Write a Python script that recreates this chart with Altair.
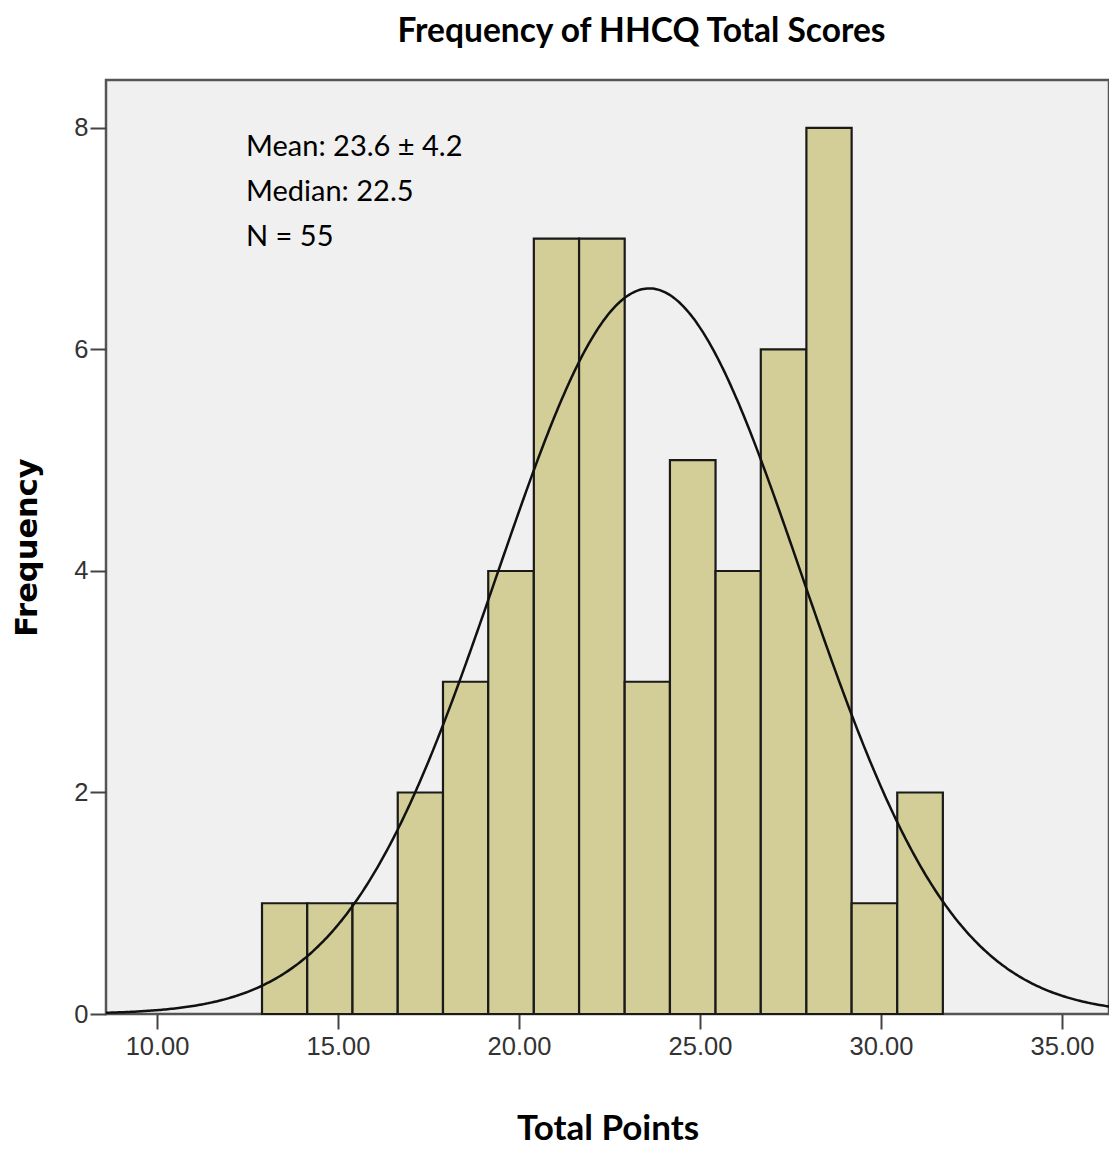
import altair as alt
import pandas as pd

# Histogram bins
bin_lo = [12.90, 14.15, 15.40, 16.65, 17.90, 19.15, 20.41, 21.66, 22.92, 24.17, 25.43, 26.68, 27.94, 29.19, 30.45]
bin_hi = [14.15, 15.40, 16.65, 17.90, 19.15, 20.41, 21.66, 22.92, 24.17, 25.43, 26.68, 27.94, 29.19, 30.45, 31.71]
counts = [1, 1, 1, 2, 3, 4, 7, 7, 3, 5, 4, 6, 8, 1, 2]

# Normal curve parameters
mean_val = 23.6
sd_val = 4.2
n_val = 55
bin_width = 1.254

x_ticks = [10, 15, 20, 25, 30, 35]
y_ticks = [0, 2, 4, 6, 8]
x_domain = [8.59, 36.30]
y_domain = [0, 8.433]

stats_lines = ["Mean: 23.6 \u00b1 4.2", "Median: 22.5", "N = 55"]

bars_df = pd.DataFrame({"lo": bin_lo, "hi": bin_hi, "count": counts})

xscale = alt.Scale(domain=x_domain, nice=False, zero=False)
yscale = alt.Scale(domain=y_domain, nice=False, zero=False)

x_axis = alt.Axis(
    values=x_ticks, format=".2f", title="Total Points", domain=False, grid=False,
    labelFont="Liberation Sans", labelFontSize=25.5, labelColor="#333333", labelPadding=5,
    tickSize=15, tickColor="#444444", tickWidth=2,
    titleFont="Lato", titleFontSize=35, titleFontWeight="bold", titleColor="#000000",
    titlePadding=52,
)
y_axis = alt.Axis(
    values=y_ticks, format="d", title="Frequency", domain=False, grid=False,
    labelFont="Liberation Sans", labelFontSize=25.5, labelColor="#333333", labelPadding=2,
    tickSize=16, tickColor="#444444", tickWidth=2,
    titleFont="DejaVu Sans", titleFontSize=30.5, titleFontWeight="bold", titleColor="#000000",
    titlePadding=31,
)

bars = alt.Chart(bars_df).mark_rect(
    fill="#d3ce97", stroke="#1a1a1a", strokeWidth=2.2
).encode(
    x=alt.X("lo:Q", scale=xscale, axis=x_axis),
    x2="hi:Q",
    y=alt.Y("count:Q", scale=yscale, axis=y_axis),
    y2=alt.datum(0),
)

curve = alt.Chart(alt.sequence(start=x_domain[0], stop=x_domain[1] + 0.05, step=0.05, as_="x")).transform_calculate(
    y=f"{n_val} * {bin_width} * densityNormal(datum.x, {mean_val}, {sd_val})"
).mark_line(color="#111111", strokeWidth=2.5, clip=True).encode(
    x=alt.X("x:Q", scale=xscale),
    y=alt.Y("y:Q", scale=yscale),
)

stats = alt.Chart(pd.DataFrame({"t": ["\n".join(stats_lines)]})).mark_text(
    align="left", baseline="middle", font="Lato", fontSize=29, lineHeight=45,
    color="#000000", lineBreak="\n",
).encode(
    x=alt.value(140), y=alt.value(67), text="t:N"
)

chart = alt.layer(bars, curve, stats).properties(
    width=1003, height=934,
    title=alt.TitleParams(
        "Frequency of HHCQ Total Scores", font="Lato", fontSize=33.5, fontWeight="bold",
        color="#000000", anchor="middle", dx=34, offset=31,
    ),
    autosize=alt.AutoSizeParams(type="none"),
    padding={"left": 98, "top": 72, "right": 0, "bottom": 134},
).configure_view(
    fill="#f0f0f0", stroke="#555555", strokeWidth=2.5
)

chart.save("out.html", embed_options={"renderer": "svg", "actions": False})
